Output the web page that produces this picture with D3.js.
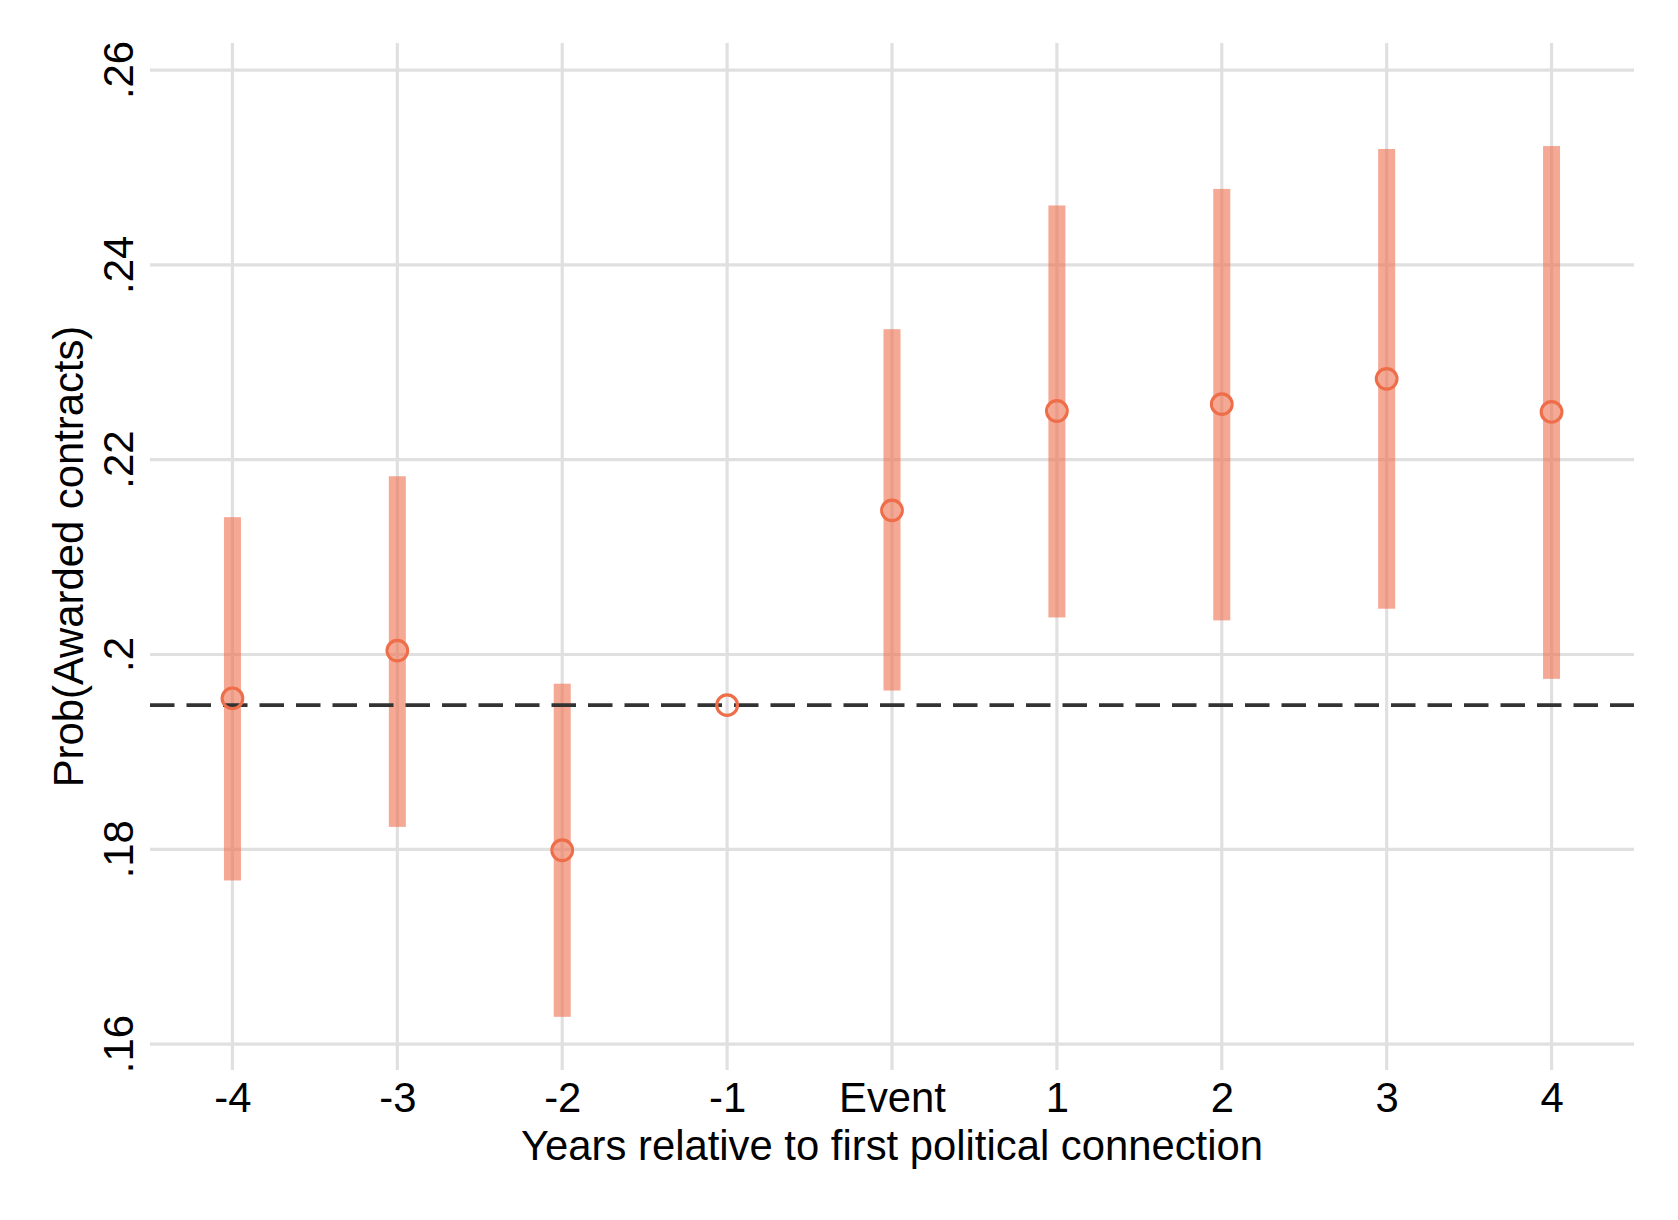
<!DOCTYPE html>
<html>
<head>
<meta charset="utf-8">
<script src="https://cdn.jsdelivr.net/npm/d3@7"></script>
<style>
    html, body { margin: 0; padding: 0; background: #fff; }
    text { font-family: "Liberation Sans", Arial, Helvetica, sans-serif; fill: #000; }
</style>
</head>
<body>
<div id="event-study"></div>
<script>
// chart values
var periods = [-4, -3, -2, -1, 0, 1, 2, 3, 4];
var periodLabels = ["-4", "-3", "-2", "-1", "Event", "1", "2", "3", "4"];
var coef = [0.1955, 0.2004, 0.1799, 0.1948, 0.2148, 0.2250, 0.2257, 0.2283, 0.2249];
var ciLow = [0.1768, 0.1823, 0.1628, null, 0.1963, 0.2038, 0.2035, 0.2047, 0.1975];
var ciHigh = [0.2141, 0.2183, 0.1970, null, 0.2334, 0.2461, 0.2478, 0.2519, 0.2522];
var baseline = 0.1948;
var yTicks = [0.16, 0.18, 0.20, 0.22, 0.24, 0.26];
var yTickLabels = [".16", ".18", ".2", ".22", ".24", ".26"];

(function () {
    "use strict";

    var vWidth = 1678, vHeight = 1220;
    // plot region
    var vLeft = 150, vRight = 1634, vTop = 43, vBottom = 1070;
    var vFontSize = "41.8px";

    var svg = d3.select("#event-study")
        .append("svg")
        .attr("width", vWidth)
        .attr("height", vHeight);

    var vX = d3.scaleLinear()
        .domain([-4.5, 4.5])
        .range([vLeft, vRight]);

    var vY = d3.scaleLinear()
        .domain([0.15734, 0.26278])
        .range([vBottom, vTop]);

    var vData = periods.map(function (p, i) {
        return { period: p, label: periodLabels[i], coef: coef[i], lo: ciLow[i], hi: ciHigh[i] };
    });

    // grid
    svg.append("g")
        .selectAll("line")
        .data(yTicks)
        .enter()
        .append("line")
            .attr("x1", vLeft)
            .attr("x2", vRight)
            .attr("y1", function (d) { return vY(d); })
            .attr("y2", function (d) { return vY(d); })
            .attr("stroke", "#e0e0e0")
            .attr("stroke-width", 3.2);
    svg.append("g")
        .selectAll("line")
        .data(periods)
        .enter()
        .append("line")
            .attr("x1", function (d) { return vX(d); })
            .attr("x2", function (d) { return vX(d); })
            .attr("y1", vTop)
            .attr("y2", vBottom)
            .attr("stroke", "#e0e0e0")
            .attr("stroke-width", 3.2);

    // y axis, rotated labels
    var vYAxis = d3.axisLeft(vY)
        .tickValues(yTicks)
        .tickSize(0)
        .tickPadding(0)
        .tickFormat(function (d, i) { return yTickLabels[i]; });
    var gY = svg.append("g")
        .attr("transform", "translate(" + vLeft + ",0)")
        .call(vYAxis);
    gY.select(".domain").remove();
    gY.selectAll("text")
        .attr("x", null)
        .attr("dy", null)
        .attr("transform", function (d) { return "translate(-17," + vY(d) + ") rotate(-90)"; })
        .attr("y", 0)
        .style("text-anchor", "middle")
        .style("font-size", vFontSize)
        .style("font-family", "'Liberation Sans', Arial, sans-serif");
    gY.selectAll(".tick").attr("transform", null);

    // x axis
    var vXAxis = d3.axisBottom(vX)
        .tickValues(periods)
        .tickSize(0)
        .tickPadding(0)
        .tickFormat(function (d, i) { return periodLabels[i]; });
    var gX = svg.append("g")
        .attr("transform", "translate(0," + 1112 + ")")
        .call(vXAxis);
    gX.select(".domain").remove();
    gX.selectAll("text")
        .attr("y", 0)
        .attr("dy", null)
        .style("font-size", vFontSize)
        .style("font-family", "'Liberation Sans', Arial, sans-serif");

    // axis titles
    svg.append("text")
        .attr("x", (vLeft + vRight) / 2)
        .attr("y", 1160)
        .attr("text-anchor", "middle")
        .style("font-size", vFontSize)
        .text("Years relative to first political connection");
    svg.append("text")
        .attr("transform", "translate(83," + ((vTop + vBottom) / 2) + ") rotate(-90)")
        .attr("text-anchor", "middle")
        .style("font-size", vFontSize)
        .text("Prob(Awarded contracts)");

    // confidence intervals
    svg.append("g")
        .selectAll("rect")
        .data(vData.filter(function (d) { return d.lo !== null; }))
        .enter()
        .append("rect")
            .attr("x", function (d) { return vX(d.period) - 8.5; })
            .attr("y", function (d) { return vY(d.hi); })
            .attr("width", 17)
            .attr("height", function (d) { return vY(d.lo) - vY(d.hi); })
            .attr("fill", "#ef6e4c")
            .attr("fill-opacity", 0.6);

    // reference line
    svg.append("line")
        .attr("x1", vLeft)
        .attr("x2", vRight)
        .attr("y1", vY(baseline))
        .attr("y2", vY(baseline))
        .attr("stroke", "#333333")
        .attr("stroke-width", 3.6)
        .attr("stroke-dasharray", "24.5 12");

    // point estimates
    svg.append("g")
        .selectAll("circle")
        .data(vData)
        .enter()
        .append("circle")
            .attr("cx", function (d) { return vX(d.period); })
            .attr("cy", function (d) { return vY(d.coef); })
            .attr("r", 10.3)
            .attr("fill", "none")
            .attr("stroke", "#ee6e4a")
            .attr("stroke-width", 3.2);
})();
</script>
</body>
</html>
